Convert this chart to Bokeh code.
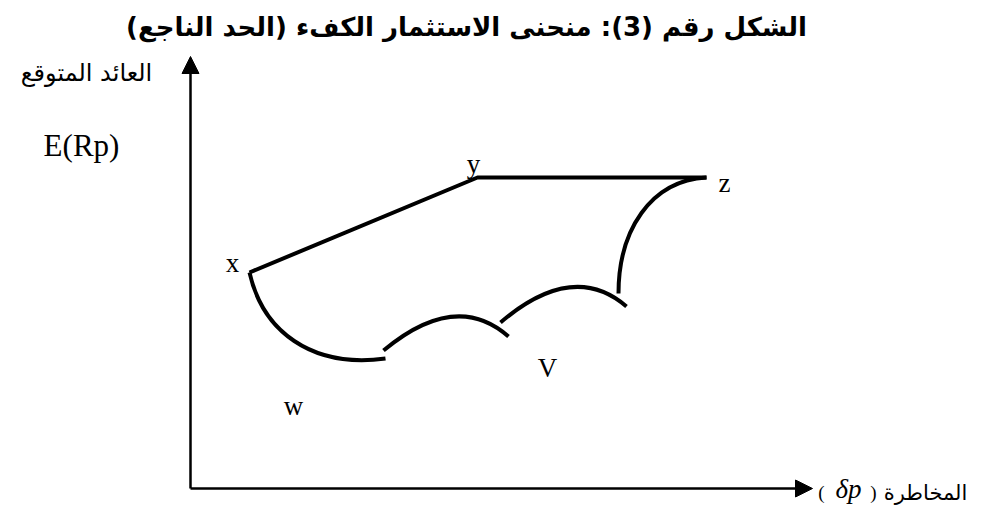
from bokeh.plotting import figure
from bokeh.models import Range1d, Arrow, NormalHead, ColumnDataSource
from bokeh.core.properties import value
from bokeh.embed import file_html
from bokeh.resources import INLINE

# ---- diagram data (reference pixel coordinates) ----
origin_x, origin_y = 190, 488
y_axis_top = 56
x_axis_right = 812

frontier_x = [249, 477, 706]   # x -> y -> z
frontier_y = [272, 177, 177]

# concave arcs of the feasible set (cubic bezier: start, end, two controls)
arc_x0 = [249, 383, 500, 618]
arc_y0 = [272, 350, 322, 293]
arc_x1 = [385, 508, 626, 706]
arc_y1 = [358, 336, 306, 177]
arc_cx0 = [262, 431, 548, 618]
arc_cy0 = [330, 310, 281, 230]
arc_cx1 = [310, 473, 590, 650]
arc_cy1 = [368, 305, 275, 180]

point_labels = ["x", "y", "z", "w", "V", "E(Rp)"]
point_label_x = [232, 473, 724, 293, 547, 81]
point_label_y = [262, 163, 182, 405, 367, 145]
point_label_size = ["27px", "27px", "27px", "27px", "27px", "31px"]

title_text = "الشكل رقم (3): منحنى الاستثمار الكفء (الحد الناجع)"
title_x, title_y = 466, 26
y_axis_label = "العائد المتوقع"
y_axis_label_x, y_axis_label_y = 86, 72
x_axis_label = "المخاطرة"
x_axis_label_x, x_axis_label_y = 925, 492
sigma_label = "δp"
sigma_x, sigma_y = 848, 488
paren_text = ["\u200e(\u200e", "\u200e)\u200e"]
paren_x = [821, 873]
paren_y = [492, 492]

p = figure(width=966, height=506, x_range=Range1d(0, 966), y_range=Range1d(506, 0),
           x_axis_type=None, y_axis_type=None, output_backend="svg",
           toolbar_location=None, min_border=0)
p.grid.visible = False
p.outline_line_color = None
p.background_fill_color = "white"

# axes with arrow heads
p.add_layout(Arrow(end=NormalHead(size=17, fill_color="black", line_color="black"),
                   x_start=origin_x, y_start=origin_y, x_end=origin_x, y_end=y_axis_top,
                   line_width=2.5, line_color="black"))
p.add_layout(Arrow(end=NormalHead(size=17, fill_color="black", line_color="black"),
                   x_start=origin_x, y_start=origin_y, x_end=x_axis_right, y_end=origin_y,
                   line_width=2.5, line_color="black"))

# efficient frontier x-y-z
p.line(frontier_x, frontier_y, line_width=4, line_color="black")

# arcs
arcs = ColumnDataSource(dict(x0=arc_x0, y0=arc_y0, x1=arc_x1, y1=arc_y1,
                             cx0=arc_cx0, cy0=arc_cy0, cx1=arc_cx1, cy1=arc_cy1))
p.bezier(x0="x0", y0="y0", x1="x1", y1="y1", cx0="cx0", cy0="cy0", cx1="cx1", cy1="cy1",
         source=arcs, line_width=4, line_color="black")

# latin point labels
lab = ColumnDataSource(dict(t=point_labels, x=point_label_x, y=point_label_y, s=point_label_size))
p.text(x="x", y="y", text="t", source=lab, text_font=value("Liberation Serif"),
       text_font_size="s", text_align="center", text_baseline="alphabetic", text_color="black")

# title
p.text(x=[title_x], y=[title_y], text=[title_text], text_font=value("DejaVu Sans"),
       text_font_size="26px", text_font_style="bold", text_align="center",
       text_baseline="middle", text_color="black")

# axis labels
p.text(x=[y_axis_label_x], y=[y_axis_label_y], text=[y_axis_label], text_font=value("DejaVu Sans"),
       text_font_size="24px", text_align="center", text_baseline="middle", text_color="black")
p.text(x=[x_axis_label_x], y=[x_axis_label_y], text=[x_axis_label], text_font=value("DejaVu Sans"),
       text_font_size="21px", text_align="center", text_baseline="middle", text_color="black")
p.text(x=[sigma_x], y=[sigma_y], text=[sigma_label], text_font=value("Liberation Serif"),
       text_font_size="27px", text_font_style="italic", text_align="center",
       text_baseline="middle", text_color="black")
p.text(x=paren_x, y=paren_y, text=paren_text, text_font=value("Liberation Serif"),
       text_font_size="19px", text_align="center", text_baseline="middle", text_color="black")

open("out.html", "w").write(file_html(p, INLINE))
